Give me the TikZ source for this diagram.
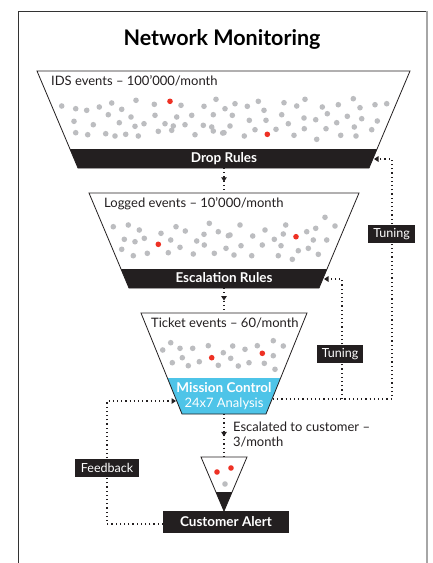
\documentclass[tikz,border=0pt]{standalone}
\usepackage{fontspec}
\setmainfont{Lato}
\usetikzlibrary{arrows.meta,decorations.markings}
\definecolor{ink}{HTML}{231F20}
\definecolor{dotgray}{HTML}{BCBDC0}
\definecolor{dotred}{HTML}{EE3124}
\definecolor{cyanband}{HTML}{4EC4E8}
\begin{document}
\begin{tikzpicture}[x=1pt,y=-1pt,
  outline/.style={draw=ink,line width=0.8pt},
  bandtext/.style={text=white,font=\bfseries\fontsize{13.5}{15}\selectfont,inner sep=0pt,anchor=base},
  lbl/.style={text=ink,font=\fontsize{13}{15}\selectfont,anchor=base west,inner sep=0pt},
  tag/.style={fill=ink,text=white,font=\fontsize{12.5}{14}\selectfont,inner sep=0pt,minimum height=18pt},
  dotline/.style={draw=ink,line width=1.2pt,dash pattern=on 1.2pt off 3pt},
  tip/.style={-{Triangle[width=5.5pt,length=4.5pt]}},
  midtip/.style={postaction={decorate},decoration={markings,mark=at position #1 with {\arrow{Triangle[width=5.5pt,length=4.5pt]}}}},
]
\useasboundingbox (0,0) rectangle (432,563);
% frame
\draw[gray!40!black,line width=0.9pt] (18,570) -- (18,11) -- (427,11);
\draw[gray!70,line width=2pt] (427,11) -- (427,570);
% title
\node[font=\bfseries\fontsize{21.5}{24}\selectfont,anchor=base,inner sep=0pt] (title) at (222,45) {Network Monitoring};

% funnel 1
\def\fone{(37,71) -- (410,71) -- (369,168) -- (78,168) -- cycle}
\fill[white] \fone;
\begin{scope}\clip \fone; \fill[ink] (0,149) rectangle (432,169); \end{scope}
\draw[outline] \fone;
\node[lbl] (ids) at (51,85.5) {IDS events – 100’000/month};
\node[bandtext] (drop) at (224,162.8) {Drop Rules};
\coordinate (f1bot) at (224,168);
\coordinate (dropR) at (374,159);

% funnel 2
\def\ftwo{(89,193) -- (359,193) -- (319,288) -- (129,288) -- cycle}
\fill[white] \ftwo;
\begin{scope}\clip \ftwo; \fill[ink] (0,269) rectangle (432,289); \end{scope}
\draw[outline] \ftwo;
\node[lbl] (logged) at (104,207.3) {Logged events – 10’000/month};
\node[bandtext] (esc) at (224,282.8) {Escalation Rules};
\coordinate (f2top) at (224,193);
\coordinate (f2bot) at (224,288);
\coordinate (escR) at (324,279);

% funnel 3
\def\fthree{(141,313) -- (307,313) -- (266,414) -- (182,414) -- cycle}
\fill[white] \fthree;
\begin{scope}\clip \fthree; \fill[cyanband] (0,378) rectangle (432,415); \end{scope}
\draw[outline] \fthree;
\node[lbl] (ticket) at (151,327.7) {Ticket events – 60/month};
\node[bandtext] (mc) at (224,392.7) {Mission Control};
\node[bandtext,font=\fontsize{13}{14}\selectfont] (mc2) at (224,407) {24x7 Analysis};
\coordinate (f3top) at (224,313);
\coordinate (f3bot) at (224,414);
\coordinate (mcR) at (273,399);
\coordinate (split) at (342,399);
\coordinate (mcL) at (176,401);

% small funnel
\draw[outline,fill=white] (201,457) -- (247,457) -- (224,511) -- cycle;
\fill[ink] (215.9,492) -- (232.1,492) -- (224,511) -- cycle;
\coordinate (f4top) at (224,457);
\node[tag,minimum width=126pt,minimum height=22pt,font=\bfseries\fontsize{13.5}{15}\selectfont] (alert) at (226,522) {Customer Alert};
\coordinate (alertL) at (163,524);
\coordinate (fbc) at (107,401);

% dots
\foreach \x/\y in {61.7/106,75.7/108.7,86.7/110.3,99.3/107,111.7/103,121.7/109.3,136/100.3,154.3/104.3,181/105.3,204/106.3,216/99.3,
108.3/114.7,131/117,155/115.3,176.7/117,191.7/115.3,213.3/114.7,74/121.3,93.3/124.7,119.3/122.7,135/126.3,144/123.7,165/123.7,173.3/126,185/124.7,203.3/125.3,211.7/127,
75.7/132.7,87.7/134.7,105.7/133.7,115/136,125.7/134.3,138.3/136,158.3/131.3,171.7/130.3,195/134.7,213.3/131,222.7/133,
225/108.7,235/103.7,247.3/106.3,258.3/101.3,264/110.3,284/102.7,296.7/106,305/99.3,322.3/107,338.3/104.7,353.3/98.7,360/107.7,375/104.7,386.7/103.7,
232.3/115.3,281.7/114.7,327.3/113.7,347.3/116.3,249.3/120.3,266/120.3,288.3/123.7,304/118,315.7/119.7,336.7/122.7,361.7/118.7,377.3/121,
230/126,224/132.7,244.3/136,255/129.7,276/129.3,294/135.3,304.3/128.7,316.7/139.3,326/128.7,340.7/135.3,354.3/127,356/136,371.7/129.7,
113.3/226.7,128.3/225,139.3/230,161/233.3,176/226.7,185.3/231,209.3/223.3,204/234.3,218.3/231.7,228.3/235.7,124.3/239.3,135/241.7,144.3/238.3,170.7/240,196.7/241,204.3/245,
121.7/249.3,133.3/255.7,147.3/253.3,168.3/252.7,180/247.3,193.3/254,214.3/253.3,226/248.3,
240/225,265/230,285.7/225,325/217.3,335/226,230/235,252.7/236,274.3/239.3,283.3/234,306.7/231.7,315.7/228.3,
241/245.7,262.3/245,281/245.7,313.3/240,326.7/240,234/255,251.7/255.7,278.3/255.7,292.3/259.3,298.3/250.7,308.3/248.3,318.3/254.3,
162.7/350,170.7/342.7,180/348.3,192.7/348.3,208.3/345.7,232.7/346,245/349.3,257.3/345.7,273.3/340.7,283.3/346,
172.3/362.7,182.3/357.7,188.3/365.7,199.3/361.7,218.3/365.3,223.3/352.7,230.7/358.3,238.3/366,249/362.7,264.3/363.3,273.3/355.7,275/369.3,
225/484}
  \fill[dotgray] (\x,\y) circle[radius=2.8pt];
\foreach \x/\y in {170/101.3,267.3/134.3,158.3/244.3,296/236.7,211.7/357.7,262.3/353.3,217/472,231/468}
  \fill[dotred] (\x,\y) circle[radius=2.8pt];

% connectors
\draw[dotline,midtip=0.55] (f1bot) -- (f2top);
\draw[dotline,midtip=0.5] (f2bot) -- (f3top);
\draw[dotline,midtip=0.52] (f3bot) -- (f4top);
\draw[dotline,tip] (mcR) -- (392,399) |- (dropR);
\draw[dotline,tip] (split) |- (escR);
\draw[dotline,tip] (alertL) -| (fbc) -- (mcL);

% tags
\node[tag,minimum width=47pt] (tune1) at (391.5,234) {Tuning};
\node[tag,minimum width=46pt] (tune2) at (340,354) {Tuning};
\node[tag,minimum width=64pt] (fb) at (107,468) {Feedback};
\node[lbl] (esc1) at (233,431.7) {Escalated to customer –};
\node[lbl] (esc2) at (233,446.7) {3/month};
\end{tikzpicture}
\end{document}
